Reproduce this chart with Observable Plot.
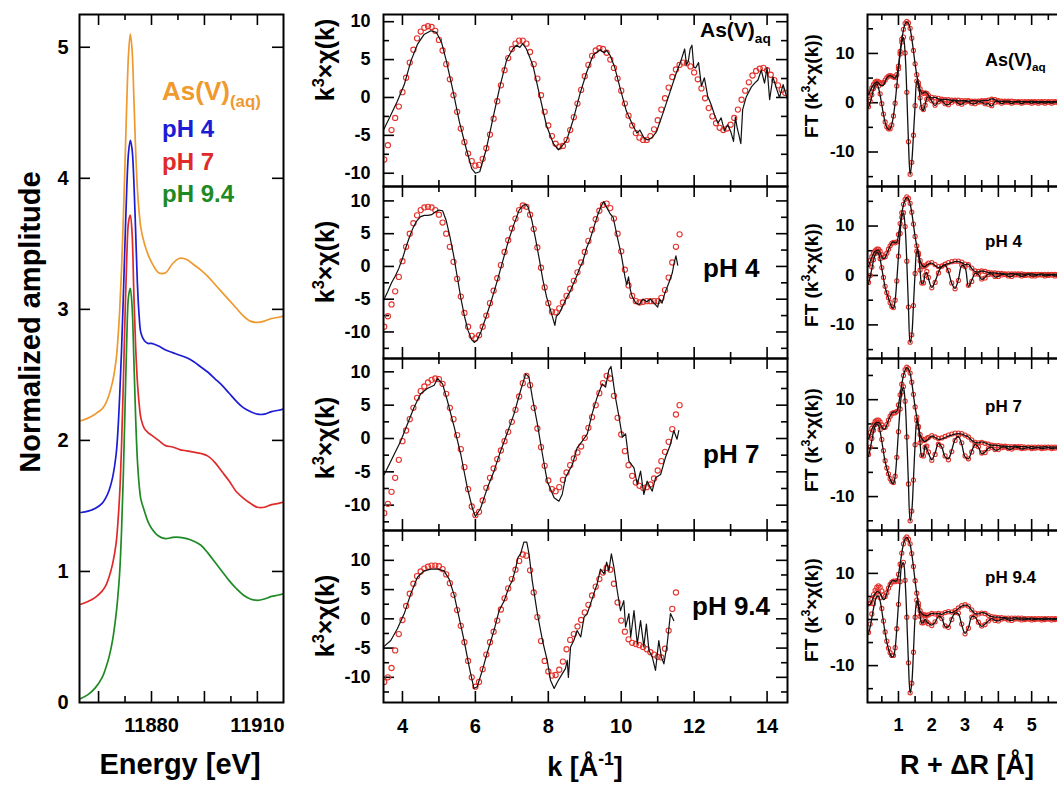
<!DOCTYPE html>
<html><head><meta charset="utf-8">
<script src="https://cdn.jsdelivr.net/npm/d3@7"></script>
<script src="https://cdn.jsdelivr.net/npm/@observablehq/plot@0.6"></script>
<style>
body{margin:0;background:#fff;overflow:hidden}
#fig{position:relative;width:1057px;height:785px;overflow:hidden;background:#fff}
</style></head><body><div id="fig"></div>
<script>
// ---------------- DATA ----------------
// XANES (panel A)
const xanesE = [11860,11862,11864,11866,11867,11868,11869,11870,11870.5,11871,11871.5,11872,11872.5,11873,11873.5,11874,11874.5,11875,11875.5,11876,11876.5,11877,11878,11879,11880,11882,11884,11886,11888,11890,11892,11894,11896,11898,11900,11902,11904,11906,11908,11910,11912,11914,11916,11917.4];
const xanesAs = [2.15,2.17,2.20,2.24,2.28,2.35,2.45,2.62,2.78,3.00,3.30,3.68,4.12,4.58,4.95,5.10,4.98,4.62,4.22,3.92,3.74,3.62,3.50,3.42,3.36,3.28,3.28,3.35,3.39,3.38,3.34,3.30,3.25,3.19,3.13,3.07,3.01,2.95,2.91,2.90,2.91,2.93,2.94,2.95];
const xanesPH4 = [1.45,1.46,1.48,1.52,1.56,1.62,1.72,1.90,2.08,2.35,2.68,3.08,3.52,3.93,4.20,4.29,4.22,3.98,3.60,3.20,2.95,2.82,2.76,2.74,2.74,2.72,2.69,2.67,2.65,2.63,2.60,2.56,2.52,2.47,2.42,2.36,2.30,2.25,2.22,2.20,2.20,2.22,2.23,2.24];
const xanesPH7 = [0.75,0.77,0.80,0.85,0.89,0.96,1.06,1.22,1.38,1.60,1.95,2.42,2.95,3.40,3.67,3.72,3.58,3.12,2.72,2.45,2.28,2.17,2.09,2.06,2.04,2.00,1.96,1.95,1.93,1.92,1.91,1.90,1.88,1.83,1.76,1.69,1.61,1.56,1.52,1.49,1.49,1.51,1.52,1.53];
const xanesPH94 = [0.03,0.06,0.11,0.19,0.26,0.35,0.48,0.68,0.82,1.00,1.30,1.72,2.25,2.78,3.10,3.16,3.02,2.62,2.18,1.85,1.66,1.55,1.46,1.38,1.33,1.27,1.25,1.26,1.26,1.25,1.23,1.20,1.14,1.07,1.00,0.93,0.87,0.82,0.79,0.78,0.79,0.81,0.82,0.83];
const seriesNames = ["As(V)(aq)","pH 4","pH 7","pH 9.4"];

// EXAFS k-space fits (red circles), sampled every 0.1 Å-1 starting at k = 3.5
const fitStartK = 3.5;
const fitAs = [-8.2,-6.3,-4.3,-2.7,-1.2, 0.7,2.6,4.6,6.3,7.8,8.7,9.2,9.4,9.3,8.8, 7.6,6.2,4.4,2.4,0.3,-1.9,-4.1,-5.9,-7.4,-8.4, -9.0,-8.9,-8.1,-6.7,-4.9,-2.8,-0.5,1.6,3.6,5.2, 6.4,7.1,7.5,7.5,7.1,6.0,4.4,2.5,0.3,-1.9, -3.7,-5.1,-6.1,-6.5,-6.4,-5.6,-4.3,-2.6,-0.8,1.0, 2.8,4.3,5.5,6.2,6.5,6.4,5.9,5.0,3.9,2.5, 0.9,-0.8,-2.4,-3.7,-4.7,-5.3,-5.6,-5.6,-5.1,-4.2, -3.0,-1.6,-0.1,1.3,2.7,3.7,4.3,4.6,4.5,4.1, 3.3,2.4,1.2,-0.1,-1.4,-2.5,-3.4,-4.0,-4.3,-4.1, -3.6,-2.7,-1.6,-0.3,0.9,2.0,2.9,3.5,3.8,3.9, 3.6,3.0,2.3,1.6,1.0,0.6];
const fitPH4 = [-9.2,-7.6,-5.8,-3.8,-1.6, 0.8,3.0,5.0,6.6,7.8,8.6,9.0,9.1,9.0,8.6, 7.9,6.7,5.0,3.0,0.7,-1.9,-4.6,-7.1,-9.2,-10.6, -11.0,-10.5,-9.2,-7.5,-5.6,-3.7,-1.8,0.2,2.2,4.0, 5.8,7.3,8.6,9.3,9.1,7.9,5.7,2.9,-0.2,-3.2, -5.6,-6.9,-7.0,-6.4,-5.5,-4.5,-3.4,-2.2,-0.9,0.6, 2.2,3.9,5.6,7.2,8.5,9.4,9.6,8.9,7.3,5.0, 2.3,-0.5,-2.9,-4.5,-5.3,-5.5,-5.4,-5.3,-5.3,-5.3, -5.3,-4.8,-3.6,-1.7,0.6,3.0,4.9];
const fitPH7 = [-11.2,-9.8,-8.0,-5.9,-3.2, -0.4,1.2,2.9,4.6,6.1,7.1,7.8,8.4,8.8,9.0, 8.9,8.2,6.7,4.6,2.9,0.5,-1.6,-4.3,-7.6,-10.2, -11.5,-11.0,-9.3,-7.4,-5.9,-4.5,-3.1,-1.8,-0.4,1.0, 2.5,4.3,6.3,8.3,9.4,8.0,4.6,1.5,-1.3,-4.1, -6.3,-7.6,-7.9,-7.3,-6.2,-5.1,-4.0,-3.0,-2.1,-1.2, 0.1,1.6,3.2,5.0,6.8,8.3,9.4,9.0,6.4,3.1, 0.6,-1.9,-4.0,-5.6,-6.6,-7.1,-7.4,-7.3,-6.9,-6.0, -4.8,-3.4,-2.0,-0.5,1.4,3.6,5.0];
const fitPH94 = [-10.8,-10.0,-8.4,-5.4,-2.6, -0.2,2.2,4.3,6.0,7.3,8.1,8.6,8.9,9.1,9.1, 9.0,8.5,7.6,6.1,4.1,1.5,-1.2,-4.0,-7.2,-10.0, -11.6,-10.8,-8.6,-6.1,-4.0,-2.2,-0.3,1.6,3.5,5.2, 6.8,8.4,9.9,11.0,10.8,8.3,4.5,0.3,-3.8,-7.2, -9.0,-9.7,-9.6,-8.7,-7.3,-5.2,-3.6,-2.6,-1.3,-0.2, 1.1,2.4,4.0,5.5,6.8,7.9,8.7,8.4,6.0,2.8, -0.3,-2.2,-3.5,-4.1,-4.3,-4.5,-4.8,-5.2,-5.7,-6.1, -6.5,-6.6,-5.1,-2.0,1.7,4.5];

// EXAFS k-space experimental data (black lines), [k, k3chi]
const expAs = [[3.48,-4.3],[3.68,-2.3],[3.86,-0.5],[4.05,1.7],[4.23,4.8],[4.41,7.0],[4.59,8.3],[4.78,8.8],[4.93,8.6],[5.07,7.3],[5.2,4.9],[5.38,1.0],[5.56,-3.2],[5.74,-6.6],[5.9,-9.4],[6.0,-10.0],[6.12,-9.8],[6.3,-6.8],[6.48,-2.8],[6.67,1.4],[6.86,5.0],[7.04,6.5],[7.13,6.9],[7.22,6.6],[7.3,7.1],[7.4,6.4],[7.58,4.2],[7.76,0.3],[7.95,-3.7],[8.14,-6.1],[8.28,-6.9],[8.36,-6.5],[8.5,-5.7],[8.68,-3.0],[8.87,0.5],[9.05,3.3],[9.23,5.6],[9.42,6.3],[9.53,5.9],[9.6,6.2],[9.69,5.6],[9.82,4.0],[9.96,1.4],[10.14,-1.8],[10.33,-3.8],[10.43,-4.7],[10.51,-4.3],[10.63,-5.4],[10.74,-5.6],[10.86,-5.2],[10.97,-4.5],[11.15,-2.0],[11.33,0.6],[11.5,3.1],[11.64,4.9],[11.74,6.4],[11.79,4.3],[11.84,4.8],[11.89,6.4],[11.94,6.9],[11.99,4.0],[12.04,3.9],[12.12,4.6],[12.2,1.5],[12.28,2.6],[12.37,0.2],[12.47,-1.0],[12.56,-2.3],[12.65,-3.4],[12.74,-2.7],[12.83,-4.4],[12.92,-3.6],[13.01,-4.6],[13.08,-5.8],[13.13,-2.6],[13.18,-4.0],[13.23,-5.0],[13.28,-6.1],[13.33,-1.6],[13.43,0.1],[13.57,1.4],[13.66,1.9],[13.75,2.3],[13.84,3.6],[13.93,1.9],[14.0,3.9],[14.07,-0.3],[14.16,2.7],[14.25,1.3],[14.34,0.0],[14.44,1.7],[14.55,-0.1]];
const expPH4 = [[3.48,-5.2],[3.6,-3.8],[3.7,-2.5],[3.8,-1.5],[3.9,-0.3],[4.0,1.2],[4.1,3.0],[4.2,4.6],[4.3,6.0],[4.4,7.0],[4.5,7.6],[4.6,7.8],[4.7,7.8],[4.8,7.9],[4.9,8.3],[5.0,8.6],[5.1,8.5],[5.2,7.0],[5.3,4.6],[5.4,1.8],[5.5,-1.5],[5.6,-4.8],[5.7,-7.6],[5.8,-9.8],[5.9,-11.2],[5.97,-11.6],[6.05,-11.2],[6.15,-10.0],[6.3,-7.6],[6.45,-5.0],[6.6,-2.2],[6.75,0.8],[6.9,3.8],[7.05,6.3],[7.2,8.6],[7.3,9.3],[7.38,9.5],[7.45,9.0],[7.55,7.0],[7.65,4.2],[7.75,1.2],[7.85,-2.0],[7.95,-4.6],[8.05,-6.5],[8.12,-7.8],[8.18,-9.0],[8.22,-7.6],[8.3,-7.2],[8.4,-6.0],[8.5,-4.8],[8.6,-3.8],[8.7,-2.5],[8.8,-1.2],[8.85,-0.4],[8.95,0.8],[9.05,2.8],[9.15,4.2],[9.25,6.0],[9.35,7.8],[9.45,9.2],[9.52,9.9],[9.58,9.2],[9.62,8.8],[9.7,8.0],[9.78,7.5],[9.85,5.6],[9.92,3.8],[10.0,1.8],[10.05,0.2],[10.1,-1.5],[10.15,-2.8],[10.2,-1.6],[10.25,-3.6],[10.3,-4.6],[10.4,-5.6],[10.5,-5.8],[10.6,-5.0],[10.7,-5.4],[10.8,-5.0],[10.9,-5.6],[11.0,-6.2],[11.05,-5.0],[11.12,-5.6],[11.2,-4.0],[11.3,-2.6],[11.4,-1.0],[11.45,0.5],[11.5,1.6],[11.55,0.2]];
const expPH7 = [[3.5,-5.4],[3.68,-3.4],[3.95,-0.4],[4.14,2.2],[4.32,4.7],[4.5,6.7],[4.68,7.5],[4.87,8.0],[4.96,9.0],[5.1,8.2],[5.23,5.7],[5.42,1.7],[5.6,-2.4],[5.78,-7.4],[5.92,-10.5],[6.0,-11.7],[6.14,-10.5],[6.33,-7.4],[6.51,-4.9],[6.69,-1.9],[6.88,0.9],[7.06,3.7],[7.24,7.2],[7.38,9.7],[7.47,9.2],[7.56,6.2],[7.7,2.2],[7.84,-2.4],[7.97,-6.4],[8.16,-8.9],[8.29,-9.4],[8.38,-8.4],[8.47,-5.9],[8.66,-3.9],[8.79,-1.4],[8.93,-0.4],[9.07,0.7],[9.2,3.7],[9.34,6.2],[9.48,8.2],[9.57,7.7],[9.66,10.3],[9.72,10.8],[9.84,6.2],[9.94,3.2],[10.03,0.2],[10.12,0.7],[10.21,-3.4],[10.35,-4.4],[10.44,-6.9],[10.53,-4.9],[10.62,-8.4],[10.71,-6.4],[10.85,-7.9],[10.94,-5.9],[11.08,-5.4],[11.21,-2.9],[11.35,-0.9],[11.44,1.2],[11.53,-0.1],[11.58,1.2]];
const expPH94 = [[3.48,-4.8],[3.68,-3.7],[3.86,-1.7],[4.05,0.9],[4.23,4.3],[4.41,7.1],[4.59,8.2],[4.78,8.5],[4.96,8.5],[5.14,8.2],[5.28,6.8],[5.42,4.0],[5.55,0.3],[5.69,-3.7],[5.83,-8.2],[5.96,-11.9],[6.05,-11.6],[6.19,-8.8],[6.33,-5.7],[6.51,-2.0],[6.65,1.4],[6.79,3.1],[6.92,5.4],[7.01,6.5],[7.1,8.5],[7.17,10.5],[7.24,11.1],[7.33,13.1],[7.41,13.1],[7.47,11.1],[7.56,6.5],[7.7,0.9],[7.84,-3.7],[7.97,-7.1],[8.06,-10.5],[8.16,-11.9],[8.25,-10.8],[8.38,-9.4],[8.47,-8.5],[8.52,-7.1],[8.55,-10.0],[8.61,-4.8],[8.7,-3.7],[8.79,-2.0],[8.89,-3.1],[8.98,0.3],[9.07,0.9],[9.16,2.6],[9.25,4.3],[9.34,6.0],[9.43,8.5],[9.53,7.7],[9.6,9.7],[9.66,8.2],[9.73,11.1],[9.8,8.8],[9.89,4.8],[9.98,1.4],[10.07,3.1],[10.12,-1.4],[10.21,0.9],[10.26,-3.1],[10.35,1.4],[10.44,-4.3],[10.53,-0.3],[10.62,-4.8],[10.69,-0.9],[10.76,-5.4],[10.85,-6.5],[10.94,-8.8],[11.03,-3.7],[11.1,-6.5],[11.17,-7.7],[11.26,-4.3],[11.35,0.9],[11.44,-0.3]];

// Fourier transforms (R-space): grid, magnitude & imaginary part, data (black) and fit (red)
const ftR = [0.1,0.15,0.2,0.25,0.3,0.35,0.4,0.45,0.5,0.55,0.6,0.65,0.7,0.75,0.8,0.85,0.9,0.95,1.0,1.05,1.1,1.15,1.2,1.25,1.3,1.35,1.4,1.45,1.5,1.55,1.6,1.65,1.7,1.75,1.8,1.85,1.9,2.0,2.1,2.2,2.3,2.4,2.5,2.6,2.7,2.8,2.9,3.0,3.1,3.2,3.3,3.4,3.5,3.6,3.7,3.8,3.9,4.0,4.1,4.2,4.3,4.4,4.5,4.6,4.7,4.8,4.9,5.0,5.1,5.2,5.3,5.4,5.5,5.6,5.7,5.8];
const magAs = [1.6,2.4,3.1,3.6,4.0,4.2,4.0,3.6,3.4,3.6,4.3,5.0,5.4,5.5,5.4,5.1,5.0,5.6,7.3,10.4,12.8,14.8,16.0,16.4,16.1,15.0,13.0,10.5,7.8,5.6,3.9,2.7,2.0,2.0,2.2,2.0,1.5, 1.0,1.1,0.8,0.6,0.7,0.6,0.5,0.5,0.4,0.4, 0.4,0.3,0.4,0.4,0.3,0.4,0.5,0.5,0.8,0.6, 0.3,0.3,0.3,0.3,0.2,0.2,0.3,0.2,0.2,0.2, 0.3,0.2,0.2,0.2,0.2,0.2,0.2,0.2,0.2];
const imAs = [-1.0,0.0,1.3,2.6,3.5,3.8,3.0,1.5,-0.4,-2.4,-4.0,-5.0,-5.4,-5.3,-4.4,-2.6,0.0,3.5,7.0,10.0,12.3,13.2,10.0,2.0,-8.0,-14.6,-12.0,-6.5,-0.5,4.5,3.6,1.0,-1.2,-1.6,-0.4,0.9,1.2, 0.3,-0.6,0.3,0.4,-0.3,-0.4,0.2,0.4,-0.2,-0.3, 0.2,0.2,-0.2,-0.2,0.2,0.1,-0.3,-0.2,-0.7,0.2, 0.2,-0.2,0.1,0.1,-0.2,0.1,0.1,-0.2,0.1,0.1, -0.1,0.1,-0.1,0.1,-0.1,0.1,-0.1,0.1,0.0];
const fitMagAs = [1.4,2.2,3.0,3.7,4.2,4.4,4.3,4.0,3.9,4.1,4.6,5.1,5.4,5.5,5.4,5.2,5.1,5.7,7.4,10.4,12.9,14.9,16.1,16.5,16.2,15.1,13.1,10.6,7.9,5.7,4.0,2.8,2.1,1.9,2.0,1.9,1.5, 1.1,1.0,0.9,0.7,0.6,0.6,0.5,0.5,0.5,0.4, 0.4,0.4,0.3,0.3,0.3,0.4,0.4,0.5,0.7,0.6, 0.4,0.3,0.3,0.3,0.3,0.2,0.2,0.2,0.2,0.2, 0.2,0.2,0.2,0.2,0.2,0.2,0.2,0.2,0.2];
const fitImAs = [-0.8,0.3,1.6,2.9,3.8,4.1,3.4,1.8,-0.2,-2.3,-3.9,-4.9,-5.3,-5.3,-4.5,-2.7,-0.1,3.4,6.9,9.9,12.3,13.3,10.1,2.1,-7.9,-14.5,-12.1,-6.6,-0.6,4.4,3.5,1.0,-1.0,-1.4,-0.5,0.7,1.0, 0.4,-0.5,0.2,0.4,-0.2,-0.4,0.1,0.4,-0.1,-0.3, 0.1,0.3,-0.1,-0.2,0.1,0.2,-0.2,-0.3,-0.6,0.1, 0.2,-0.1,0.1,0.1,-0.1,0.1,0.1,-0.1,0.1,0.1, -0.1,0.1,-0.1,0.1,-0.1,0.1,-0.1,0.1,0.0];
const magPH4 = [1.8,2.8,3.7,4.4,4.9,5.1,5.1,4.6,3.8,3.4,3.6,4.4,5.2,6.0,6.6,6.8,6.6,6.7,8.2,10.4,12.6,14.3,15.3,15.8,15.5,14.5,12.7,10.3,7.8,6.0,4.6,3.0,2.2,1.8,1.8,2.1,2.3, 2.5,2.0,1.6,1.8,2.2,2.4,2.6,2.8,2.8,2.6, 2.2,2.3,1.4,0.8,0.7,0.9,0.8,0.6,0.5,0.5, 0.4,0.4,0.3,0.3,0.4,0.3,0.3,0.3,0.2,0.3, 0.3,0.2,0.2,0.3,0.2,0.2,0.2,0.2,0.2];
const imPH4 = [-1.7,-0.3,1.4,3.0,4.2,4.7,4.4,3.2,1.4,-0.6,-2.4,-3.6,-4.6,-5.6,-6.4,-6.6,-5.0,-1.0,4.0,8.6,11.8,12.6,9.8,2.8,-6.5,-13.6,-12.0,-6.0,0.5,5.0,4.2,1.0,-1.6,-1.4,0.2,0.6,-0.6, -2.4,-1.2,0.6,1.8,2.1,0.8,-1.6,-2.6,-0.8,2.0, 1.6,-2.2,-1.0,0.4,0.2,-0.8,-0.4,0.3,0.3,-0.3, -0.2,0.2,0.2,-0.2,-0.2,0.2,0.1,-0.2,0.0,0.2, -0.1,-0.1,0.1,0.1,-0.1,0.0,0.1,-0.1,0.0];
const fitMagPH4 = [2.2,3.0,3.8,4.5,5.0,5.3,5.3,4.9,4.2,3.7,3.8,4.5,5.3,6.0,6.5,6.7,6.6,6.8,8.3,10.5,12.7,14.4,15.4,15.9,15.6,14.6,12.8,10.4,7.9,6.0,4.5,3.0,2.1,1.8,1.9,2.2,2.5, 2.6,2.2,1.8,1.9,2.3,2.6,2.8,2.9,2.9,2.7, 2.3,2.2,1.5,0.9,0.8,0.9,0.8,0.6,0.5,0.5, 0.4,0.4,0.3,0.3,0.3,0.3,0.3,0.3,0.2,0.2, 0.2,0.2,0.2,0.2,0.2,0.2,0.2,0.2,0.2];
const fitImPH4 = [-1.4,0.0,1.7,3.2,4.4,4.9,4.6,3.4,1.6,-0.4,-2.2,-3.5,-4.5,-5.5,-6.3,-6.5,-5.0,-1.1,3.9,8.5,11.8,12.7,9.9,2.9,-6.4,-13.5,-12.0,-6.1,0.4,4.9,4.2,1.1,-1.5,-1.5,0.0,0.8,-0.4, -2.5,-1.4,0.5,1.9,2.2,1.0,-1.5,-2.7,-1.0,2.1, 1.8,-2.0,-1.2,0.3,0.3,-0.7,-0.5,0.2,0.3,-0.2, -0.2,0.1,0.2,-0.1,-0.2,0.1,0.1,-0.1,0.0,0.1, -0.1,-0.1,0.1,0.1,-0.1,0.0,0.1,-0.1,0.0];
const magPH7 = [1.9,2.9,3.9,4.6,5.1,5.3,5.3,5.0,4.4,3.9,4.0,4.8,5.8,6.6,7.2,7.5,7.4,7.6,8.9,11.0,13.2,15.0,16.1,16.6,16.3,15.4,13.5,11.0,8.4,6.5,4.6,2.8,2.0,1.5,1.4,1.6,1.9, 2.5,2.2,1.8,1.9,2.2,2.5,2.7,2.9,3.0,2.9, 2.6,2.3,1.6,1.2,1.1,1.3,1.1,0.8,0.6,0.6, 0.5,0.4,0.4,0.3,0.3,0.4,0.3,0.3,0.3,0.2, 0.3,0.2,0.2,0.2,0.3,0.2,0.2,0.2,0.2];
const imPH7 = [-1.7,-0.2,1.6,3.3,4.5,5.0,4.7,3.4,1.4,-0.8,-2.8,-4.2,-5.4,-6.4,-7.1,-7.3,-5.8,-1.8,3.5,8.2,11.6,12.6,9.6,2.2,-7.5,-15.1,-13.0,-6.5,0.8,5.8,4.4,1.0,-1.7,-1.4,0.5,-0.2,-1.0, -2.4,-1.0,1.0,0.2,-1.8,-2.2,-0.4,1.8,2.4,0.8, -1.8,-2.2,-0.6,0.7,0.2,-1.2,-0.8,0.0,0.2,-0.4, -0.3,0.2,0.2,-0.2,-0.2,0.2,0.1,-0.2,0.0,0.1, -0.1,0.0,0.1,-0.1,0.0,0.1,-0.1,0.0,0.0];
const fitMagPH7 = [2.3,3.2,4.1,4.9,5.5,5.8,5.8,5.4,4.8,4.3,4.3,4.9,5.8,6.6,7.1,7.3,7.3,7.6,8.9,11.0,13.2,15.0,16.2,16.7,16.4,15.5,13.6,11.1,8.5,6.4,4.5,2.8,1.9,1.6,1.7,2.0,2.2, 2.6,2.3,2.0,2.1,2.4,2.7,2.9,3.1,3.1,3.0, 2.7,2.3,1.7,1.2,1.1,1.2,1.0,0.8,0.6,0.5, 0.5,0.4,0.4,0.3,0.3,0.3,0.3,0.3,0.2,0.2, 0.2,0.2,0.2,0.2,0.2,0.2,0.2,0.2,0.2];
const fitImPH7 = [-1.3,0.2,2.0,3.7,4.9,5.4,5.1,3.8,1.8,-0.5,-2.6,-4.1,-5.3,-6.3,-6.9,-7.1,-5.8,-1.9,3.4,8.1,11.6,12.7,9.7,2.3,-7.4,-15.0,-13.0,-6.6,0.7,5.7,4.3,1.1,-1.5,-1.6,0.2,0.4,-0.8, -2.5,-1.3,0.8,0.4,-1.6,-2.4,-0.7,1.6,2.6,1.1, -1.6,-2.2,-0.8,0.6,0.3,-1.0,-0.9,-0.1,0.2,-0.3, -0.3,0.1,0.2,-0.1,-0.2,0.1,0.1,-0.1,0.0,0.1, -0.1,0.0,0.1,-0.1,0.0,0.1,-0.1,0.0,0.0];
const magPH94 = [3.2,3.3,4.0,4.9,5.6,6.0,6.0,5.6,4.9,4.3,4.6,5.7,6.9,7.8,8.3,8.5,8.3,8.4,9.8,12.0,14.4,16.4,17.5,17.8,17.3,16.3,14.2,11.4,8.3,5.6,3.4,1.8,1.3,1.0,0.9,0.8,0.9, 1.3,1.2,1.3,1.1,1.5,1.7,1.5,1.8,2.4,2.9, 3.1,2.9,2.0,1.3,1.2,1.5,1.4,0.9,0.6,0.5, 0.5,0.4,0.4,0.3,0.3,0.4,0.3,0.3,0.3,0.2, 0.3,0.2,0.2,0.2,0.3,0.2,0.2,0.2,0.2];
const imPH94 = [-3.1,-1.6,0.4,2.4,4.0,5.0,5.1,4.0,1.9,-0.6,-2.9,-4.9,-6.4,-7.5,-8.1,-8.0,-6.2,-2.0,3.4,8.3,11.8,12.3,8.4,0.4,-9.5,-16.0,-13.8,-7.0,0.6,4.1,2.8,0.6,-0.8,-0.6,0.1,-0.5,-0.8, -1.2,-0.6,0.7,0.3,-1.5,-1.6,0.2,1.4,1.2,-1.2, -3.0,-1.8,0.6,0.6,-0.7,-1.5,-1.0,-0.3,0.2,-0.2, -0.3,0.1,0.2,-0.1,-0.2,0.1,0.1,-0.1,0.0,0.1, -0.1,0.0,0.1,-0.1,0.0,0.1,-0.1,0.0,0.0];
const fitMagPH94 = [3.4,3.5,4.4,5.4,6.3,7.0,7.3,7.0,6.2,5.3,5.0,5.8,6.8,7.6,8.1,8.3,8.2,8.4,9.8,12.0,14.4,16.4,17.5,17.9,17.4,16.4,14.3,11.5,8.4,5.7,3.5,1.9,1.2,1.0,1.0,0.9,1.0, 1.3,1.2,1.3,1.2,1.5,1.7,1.6,1.9,2.5,3.0, 3.2,2.9,2.1,1.4,1.2,1.4,1.3,0.9,0.6,0.5, 0.4,0.4,0.3,0.3,0.3,0.3,0.3,0.3,0.2,0.2, 0.2,0.2,0.2,0.2,0.2,0.2,0.2,0.2,0.2];
const fitImPH94 = [-2.8,-1.0,1.2,3.4,5.0,6.0,6.0,4.7,2.4,-0.3,-2.7,-4.7,-6.2,-7.2,-7.8,-7.8,-6.1,-2.0,3.3,8.2,11.8,12.4,8.5,0.5,-9.4,-15.9,-13.8,-7.1,0.5,4.2,2.9,0.7,-0.7,-0.7,0.0,-0.5,-0.9, -1.3,-0.5,0.8,0.2,-1.4,-1.7,0.0,1.5,1.4,-1.0, -3.1,-1.9,0.5,0.7,-0.6,-1.4,-1.1,-0.3,0.2,-0.2, -0.3,0.1,0.2,-0.1,-0.2,0.1,0.1,-0.1,0.0,0.1, -0.1,0.0,0.1,-0.1,0.0,0.1,-0.1,0.0,0.0];

// axis ticks
const eTicksLab = [11880, 11910];
const eTicksMaj = [11865, 11880, 11895, 11910];
const eTicksMin = [11872.5, 11887.5, 11902.5];
const nTicks = [0, 1, 2, 3, 4, 5];
const kTicksMaj = [4, 6, 8, 10, 12, 14];
const kTicksMin = [5, 7, 9, 11, 13];
const chiTicks = [-10, -5, 0, 5, 10];
const chiTicksMin = [-12.5, -7.5, -2.5, 2.5, 7.5, 12.5];
const rTicksMaj = [1, 2, 3, 4, 5];
const rTicksMin = [0.5, 1.5, 2.5, 3.5, 4.5, 5.5];
const ftTicks = [-10, 0, 10];
const ftTicksMin = [-15, -5, 5, 15];

// ---------------- DRAWING ----------------
const FONT = '"Liberation Sans", Arial, Helvetica, sans-serif';
const ORANGE = "#EF992F", BLUE = "#1C1CD4", RED = "#E02A2A", GREEN = "#1F8A24", FITRED = "#E5332C";
const fig = document.getElementById("fig");

function panel(o) {
  const iw = o.width - o.mL - o.mR, ih = o.height - o.mT - o.mB;
  const marks = [];
  const ts = {stroke: "#000", strokeWidth: 1.6};
  const yt = (vals, len) => {
    if (!vals) return;
    const v = vals.filter(d => d > o.yDom[0] && d < o.yDom[1]);
    marks.push(Plot.tickY(v, {y: d => d, insetRight: iw - len, ...ts}));
    if (o.rightTicks !== false) marks.push(Plot.tickY(v, {y: d => d, insetLeft: iw - len, ...ts}));
  };
  const xt = (vals, len) => {
    if (!vals) return;
    const v = vals.filter(d => d > o.xDom[0] && d < o.xDom[1]);
    marks.push(Plot.tickX(v, {x: d => d, insetTop: ih - len, ...ts}));
    marks.push(Plot.tickX(v, {x: d => d, insetBottom: ih - len, ...ts}));
  };
  yt(o.yMaj, 11); yt(o.yMin, 6); xt(o.xMaj, 11); xt(o.xMin, 6);
  marks.push(...o.marks);
  marks.push(Plot.axisY(o.yLab, {anchor: "left", tickSize: 0, tickPadding: o.yPad, tickFormat: d => String(d), fontSize: o.yFont, fontWeight: "bold", label: null}));
  if (o.xLab) marks.push(Plot.axisX(o.xLab, {anchor: "bottom", tickSize: 0, tickPadding: o.xPad, tickFormat: d => String(d), fontSize: o.xFont, fontWeight: "bold", label: null}));
  marks.push(Plot.frame({stroke: "#000", strokeWidth: 2}));
  const svg = Plot.plot({
    width: o.width, height: o.height,
    marginLeft: o.mL, marginRight: o.mR, marginTop: o.mT, marginBottom: o.mB,
    x: {type: "linear", domain: o.xDom, axis: null},
    y: {type: "linear", domain: o.yDom, axis: null},
    style: {fontFamily: FONT, background: "transparent", overflow: "visible", color: "#000"},
    marks
  });
  svg.style.position = "absolute";
  svg.style.left = o.left + "px";
  svg.style.top = o.top + "px";
  fig.appendChild(svg);
}

// Panel A: XANES
const xanesSeries = [[xanesAs, ORANGE], [xanesPH4, BLUE], [xanesPH7, RED], [xanesPH94, GREEN]];
panel({
  left: 0, top: 4, width: 300, height: 738, mL: 79, mR: 17, mT: 10, mB: 40,
  xDom: [11859.6, 11917.4], yDom: [0, 5.25],
  yMaj: nTicks, xMaj: eTicksMaj, xMin: eTicksMin,
  yLab: nTicks, yPad: 11, yFont: 20,
  xLab: eTicksLab, xPad: 15, xFont: 20,
  marks: xanesSeries.map(([vals, c], i) =>
    Plot.line(xanesE.map((e, j) => ({e, v: vals[j], s: seriesNames[i]})), {x: "e", y: "v", stroke: c, strokeWidth: 1.7, curve: "catmull-rom", clip: true}))
});

// Middle: EXAFS k-space
const kPanels = [
  {fit: fitAs, exp: expAs, yDom: [-11.75, 10.95]},
  {fit: fitPH4, exp: expPH4, yDom: [-14.05, 12.2]},
  {fit: fitPH7, exp: expPH7, yDom: [-13.8, 12.0]},
  {fit: fitPH94, exp: expPH94, yDom: [-14.3, 15.1]}
];
kPanels.forEach((p, i) => {
  const last = i === 3;
  const fitRows = p.fit.map((v, j) => ({k: fitStartK + j / 10, v}));
  panel({
    left: 300, top: 14 + 172 * i - 10, width: 500, height: 172 + 10 + (last ? 40 : 10),
    mL: 83, mR: 13, mT: 10, mB: last ? 40 : 10,
    xDom: [3.48, 14.56], yDom: p.yDom,
    yMaj: chiTicks, yMin: chiTicksMin, xMaj: kTicksMaj, xMin: kTicksMin,
    yLab: chiTicks, yPad: 13, yFont: 18,
    xLab: last ? kTicksMaj : null, xPad: 16, xFont: 20,
    marks: [
      Plot.dot(fitRows, {x: "k", y: "v", r: 2.6, stroke: FITRED, strokeWidth: 1.1, fill: "none", clip: true}),
      Plot.line(p.exp, {x: d => d[0], y: d => d[1], stroke: "#111", strokeWidth: 1.2, clip: true})
    ]
  });
});

// Right: FT R-space
const ftPanels = [
  {mag: magAs, im: imAs, fmag: fitMagAs, fim: fitImAs, yDom: [-17.0, 17.9]},
  {mag: magPH4, im: imPH4, fmag: fitMagPH4, fim: fitImPH4, yDom: [-16.8, 18.0]},
  {mag: magPH7, im: imPH7, fmag: fitMagPH7, fim: fitImPH7, yDom: [-17.0, 18.5]},
  {mag: magPH94, im: imPH94, fmag: fitMagPH94, fim: fitImPH94, yDom: [-18.0, 19.3]}
];
ftPanels.forEach((p, i) => {
  const last = i === 3;
  const rows = arr => ftR.map((r, j) => ({r, v: arr[j]}));
  panel({
    left: 790, top: 14 + 172 * i - 10, width: 280, height: 172 + 10 + (last ? 40 : 10),
    mL: 77, mR: 11, mT: 10, mB: last ? 40 : 10,
    xDom: [0.07, 5.836], yDom: p.yDom, rightTicks: false,
    yMaj: ftTicks, yMin: ftTicksMin, xMaj: rTicksMaj, xMin: rTicksMin,
    yLab: ftTicks, yPad: 13, yFont: 17,
    xLab: last ? rTicksMaj : null, xPad: 16, xFont: 18,
    marks: [
      Plot.dot(rows(p.fmag), {x: "r", y: "v", r: 2.1, stroke: FITRED, strokeWidth: 1.1, fill: "none", clip: true}),
      Plot.dot(rows(p.fim), {x: "r", y: "v", r: 2.1, stroke: FITRED, strokeWidth: 1.1, fill: "none", clip: true}),
      Plot.line(rows(p.mag), {x: "r", y: "v", stroke: "#111", strokeWidth: 1.3, curve: "catmull-rom", clip: true}),
      Plot.line(rows(p.im), {x: "r", y: "v", stroke: "#111", strokeWidth: 1.3, curve: "catmull-rom", clip: true})
    ]
  });
});

// ---------------- TEXT OVERLAY ----------------
const ov = d3.select(fig).append("svg")
  .attr("width", 1057).attr("height", 785)
  .style("position", "absolute").style("left", "0px").style("top", "0px")
  .style("pointer-events", "none")
  .attr("font-family", FONT).attr("font-weight", "bold");

function label(x, y, parts, {size, anchor = "start", rotate = 0, fill = "#000"}) {
  const t = ov.append("text").attr("text-anchor", anchor).attr("fill", fill).attr("font-size", size);
  if (rotate) t.attr("transform", `translate(${x},${y}) rotate(${rotate})`).attr("x", 0).attr("y", 0.35 * size);
  else t.attr("x", x).attr("y", y);
  let shift = 0;
  for (const p of parts) {
    const [s, kind] = typeof p === "string" ? [p, "n"] : p;
    const span = t.append("tspan").text(s);
    const target = kind === "sup" ? -0.4 * size : kind === "sub" ? 0.28 * size : 0;
    if (target - shift !== 0) span.attr("dy", target - shift);
    shift = target;
    if (kind !== "n") span.attr("font-size", size * 0.65);
  }
}

// panel A legend and titles
label(162, 100, ["As(V)", ["(aq)", "sub"]], {size: 26, fill: ORANGE});
label(162, 137, ["pH 4"], {size: 24, fill: BLUE});
label(162, 170, ["pH 7"], {size: 24, fill: RED});
label(162, 202, ["pH 9.4"], {size: 24, fill: GREEN});
label(30, 322, ["Normalized amplitude"], {size: 29, anchor: "middle", rotate: -90});
label(180, 774, ["Energy [eV]"], {size: 29, anchor: "middle"});

// middle panels
[60, 262, 438, 616].forEach(cy => label(325, cy, ["k", ["3", "sup"], "×χ(k)"], {size: 25, anchor: "middle", rotate: -90}));
label(700, 37, ["As(V)", ["aq", "sub"]], {size: 21});
label(703, 277, ["pH 4"], {size: 26});
label(703, 463, ["pH 7"], {size: 26});
label(692, 615, ["pH 9.4"], {size: 26});
label(585, 776, ["k [Å", ["-1", "sup"], "]"], {size: 27, anchor: "middle"});

// right panels
[86, 275, 440, 610].forEach(cy => label(811, cy, ["FT (k", ["3", "sup"], "×χ(k))"], {size: 19, anchor: "middle", rotate: -90}));
label(985, 66, ["As(V)", ["aq", "sub"]], {size: 18});
label(985, 247, ["pH 4"], {size: 17});
label(985, 412, ["pH 7"], {size: 17});
label(985, 583, ["pH 9.4"], {size: 17});
label(967, 774, ["R + ΔR [Å]"], {size: 27, anchor: "middle"});
</script>
</body></html>
